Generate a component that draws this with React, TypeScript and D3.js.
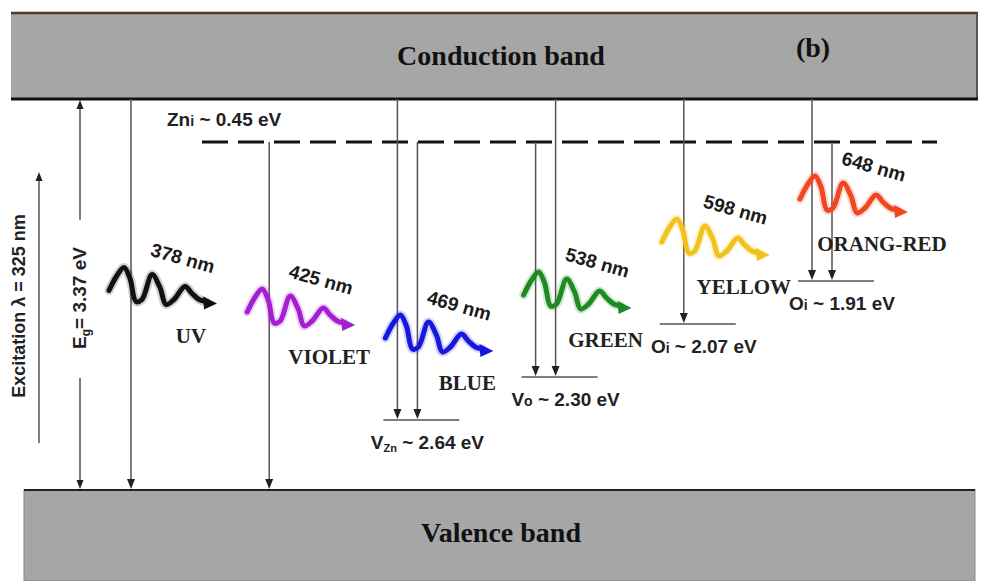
import * as d3 from 'd3';
import React, { useEffect, useRef } from 'react';

// emission bands, left to right
const emissionNames = ['UV', 'VIOLET', 'BLUE', 'GREEN', 'YELLOW', 'ORANG-RED'];
const wavelengths = [378, 425, 469, 538, 598, 648]; // nm
const emissionColors = ['#111111', '#a31fd0', '#1717e0', '#1f8a22', '#f2c21c', '#f1461f'];

// defect levels, energy below the conduction band (eV)
const levelKeys = ['Zni', 'VZn', 'Vo', 'Oi2', 'Oi1'];
const levelMain = ['Zn', 'V', 'V', 'O', 'O'];
const levelSub = ['i', 'Zn', 'o', 'i', 'i'];
const levelEnergies = [0.45, 2.64, 2.3, 2.07, 1.91];

// where each emission starts / ends ('CB', 'VB' or a level key)
const transitionFrom = [['CB'], ['Zni'], ['CB', 'Zni'], ['Zni', 'CB'], ['CB'], ['CB', 'Zni']];
const transitionTo = ['VB', 'VB', 'VZn', 'Vo', 'Oi2', 'Oi1'];

const bandGap = 3.37; // eV
const excitation = 325; // nm

const W = 981;
const H = 581;
// schematic (not to scale) energy axis: rows for CB edge, each level, VB edge
const levelRows = [99, 142, 281, 324, 377, 420, 490];
const serif = '"Liberation Serif", "Times New Roman", serif';
const sans = '"Liberation Sans", Arial, sans-serif';

// wavy photon arrow, local coords (start at 0,0)
const wavePts: [number, number][] = [
  [0, 0], [8, -15], [15, -23], [21, -12], [27, 11], [33, 9], [43, -16], [51, -3],
  [57, 14], [65, 9], [76, -4], [83, 3], [90, 9], [97, 11],
];

const App = () => {
  const ref = useRef<SVGSVGElement>(null);

  useEffect(() => {
    const svg = d3.select(ref.current);
    svg.selectAll('*').remove();

    const energyOf = (k: string) =>
      k === 'CB' ? 0 : k === 'VB' ? bandGap : levelEnergies[levelKeys.indexOf(k)];

    const y = d3.scaleLinear()
      .domain([0, ...levelEnergies.slice().sort(d3.ascending), bandGap])
      .range(levelRows);
    const x = d3.scalePoint<string>().domain(emissionNames).range([131, 822]);

    const head = (g: any, hx: number, hy: number, dir: number, w = 8, h = 10) => {
      g.append('path')
        .attr('d', `M${hx},${hy} L${hx - w / 2},${hy - dir * h} L${hx + w / 2},${hy - dir * h} Z`)
        .attr('fill', '#222');
    };

    svg.append('rect').attr('width', W).attr('height', H).attr('fill', '#fff');

    // conduction band
    const cb = svg.append('g');
    cb.append('rect').attr('x', 11).attr('y', 13).attr('width', 967).attr('height', y(0) - 13)
      .attr('fill', '#a6a6a6');
    cb.append('line').attr('x1', 11).attr('x2', 978).attr('y1', 13).attr('y2', 13)
      .attr('stroke', '#4a3a2a').attr('stroke-width', 2.5);
    cb.append('line').attr('x1', 977).attr('x2', 977).attr('y1', 13).attr('y2', y(0))
      .attr('stroke', '#555').attr('stroke-width', 2);
    cb.append('line').attr('x1', 11).attr('x2', 978).attr('y1', y(0)).attr('y2', y(0))
      .attr('stroke', '#111').attr('stroke-width', 3);
    cb.append('text').attr('x', 501).attr('y', 65).attr('text-anchor', 'middle')
      .attr('font-family', serif).attr('font-weight', 'bold').attr('font-size', 28)
      .attr('fill', '#111').text('Conduction band');
    cb.append('text').attr('x', 813).attr('y', 57).attr('text-anchor', 'middle')
      .attr('font-family', serif).attr('font-weight', 'bold').attr('font-size', 28)
      .attr('fill', '#111').text('(b)');

    // valence band
    const vb = svg.append('g');
    const vTop = y(bandGap);
    vb.append('rect').attr('x', 24).attr('y', vTop).attr('width', 951).attr('height', H - vTop)
      .attr('fill', '#a6a6a6').attr('stroke', '#888').attr('stroke-width', 1);
    vb.append('line').attr('x1', 24).attr('x2', 975).attr('y1', vTop).attr('y2', vTop)
      .attr('stroke', '#222').attr('stroke-width', 2);
    vb.append('text').attr('x', 501).attr('y', 542).attr('text-anchor', 'middle')
      .attr('font-family', serif).attr('font-weight', 'bold').attr('font-size', 28)
      .attr('fill', '#111').text('Valence band');

    const g = svg.append('g');

    // excitation arrow
    g.append('line').attr('x1', 39).attr('x2', 39).attr('y1', 443).attr('y2', 178)
      .attr('stroke', '#555').attr('stroke-width', 1.5);
    head(g, 39, 172, -1, 7, 9);
    g.append('text').attr('transform', 'translate(25,306) rotate(-90)').attr('text-anchor', 'middle')
      .attr('font-family', sans).attr('font-weight', 'bold').attr('font-size', 18).attr('fill', '#222')
      .text(`Excitation \u03bb = ${excitation} nm`);

    // band gap arrow
    const egMid = 298;
    g.append('line').attr('x1', 80).attr('x2', 80).attr('y1', y(0) + 9).attr('y2', egMid - 78)
      .attr('stroke', '#555').attr('stroke-width', 1.5);
    g.append('line').attr('x1', 80).attr('x2', 80).attr('y1', egMid + 80).attr('y2', vTop - 9)
      .attr('stroke', '#555').attr('stroke-width', 1.5);
    head(g, 80, y(0) + 1, -1, 7, 9);
    head(g, 80, vTop - 1, 1, 7, 9);
    const eg = g.append('text').attr('transform', `translate(86,${egMid}) rotate(-90)`)
      .attr('text-anchor', 'middle').attr('font-family', sans).attr('font-weight', 'bold')
      .attr('font-size', 19).attr('fill', '#222');
    eg.append('tspan').text('E');
    eg.append('tspan').attr('font-size', 12).attr('dy', 4).text('g');
    eg.append('tspan').attr('dy', -4).text(`= ${bandGap.toFixed(2)} eV`);

    // Zn interstitial: shallow dashed level across the gap
    const zi = levelKeys.indexOf('Zni');
    g.append('line').attr('x1', 202).attr('x2', 937).attr('y1', y(levelEnergies[zi])).attr('y2', y(levelEnergies[zi]))
      .attr('stroke', '#111').attr('stroke-width', 3).attr('stroke-dasharray', '26 10');

    const levelLabel = (lx: number, ly: number, i: number, anchor: string) => {
      const t = g.append('text').attr('x', lx).attr('y', ly).attr('text-anchor', anchor)
        .attr('font-family', sans).attr('font-weight', 'bold').attr('font-size', 19).attr('fill', '#222');
      t.append('tspan').text(levelMain[i]);
      const sub = levelSub[i] === 'Zn';
      t.append('tspan').attr('font-size', sub ? 11 : 14).attr('dy', sub ? 3 : 0).text(levelSub[i]);
      t.append('tspan').attr('dy', sub ? -3 : 0).text(` ~ ${levelEnergies[i].toFixed(2)} eV`);
    };
    levelLabel(167, 126, zi, 'start');

    const line = d3.line().curve(d3.curveCatmullRom.alpha(0.5));

    emissionNames.forEach((name, i) => {
      const col = x(name) as number;
      const froms = transitionFrom[i];
      const to = transitionTo[i];
      const yEnd = y(energyOf(to));
      const xs = froms.length === 1 ? [col] : [col - 10, col + 10];

      froms.forEach((f, j) => {
        g.append('line').attr('x1', xs[j]).attr('x2', xs[j]).attr('y1', y(energyOf(f))).attr('y2', yEnd - 9)
          .attr('stroke', '#555').attr('stroke-width', 1.5);
        head(g, xs[j], yEnd - 1, 1, 8, 10);
      });

      if (to !== 'VB') {
        const li = levelKeys.indexOf(to);
        g.append('line').attr('x1', col - 24).attr('x2', col + 52).attr('y1', yEnd).attr('y2', yEnd)
          .attr('stroke', '#555').attr('stroke-width', 1.5);
        levelLabel(col + 20, yEnd + 29, li, 'middle');
      }

      // photon
      const wx = col - 22;
      const wy = to === 'VB' ? (y(energyOf(froms[0])) + yEnd) / 2 - 4 : yEnd - 82;
      const wg = g.append('g').attr('transform', `translate(${wx},${wy})`);
      wg.append('path').attr('d', line(wavePts)).attr('fill', 'none')
        .attr('stroke', emissionColors[i]).attr('stroke-opacity', 0.2).attr('stroke-width', 9)
        .attr('stroke-linecap', 'round');
      wg.append('path').attr('d', line(wavePts)).attr('fill', 'none')
        .attr('stroke', emissionColors[i]).attr('stroke-width', 5)
        .attr('stroke-linecap', 'round').attr('stroke-linejoin', 'round');
      wg.append('path').attr('d', 'M108,13 L94,6 L95,19 Z').attr('fill', emissionColors[i]);

      g.append('text').attr('transform', `translate(${wx + 72},${wy - 26}) rotate(16)`)
        .attr('text-anchor', 'middle').attr('font-family', sans).attr('font-weight', 'bold')
        .attr('font-size', 19).attr('fill', '#1a1a1a').text(`${wavelengths[i]} nm`);
      g.append('text').attr('x', wx + 82).attr('y', wy + 52).attr('text-anchor', 'middle')
        .attr('font-family', serif).attr('font-weight', 'bold').attr('font-size', 21)
        .attr('fill', '#222').text(name);
    });
  }, []);

  return (
    <svg ref={ref} width={W} height={H} style={{ position: 'absolute', left: 0, top: 0 }} />
  );
};

export default App;
